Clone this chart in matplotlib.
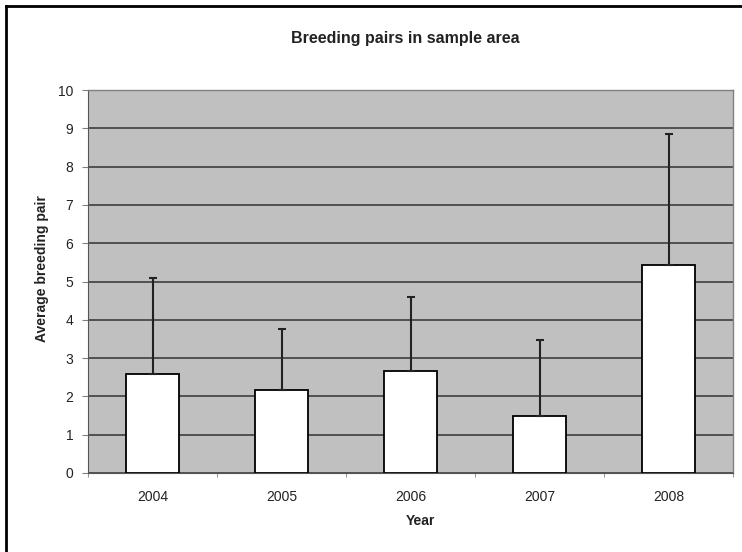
import numpy as np
import matplotlib.pyplot as plt
from matplotlib.lines import Line2D

years = ['2004', '2005', '2006', '2007', '2008']
means = [2.58, 2.17, 2.66, 1.49, 5.43]
err_up = [2.52, 1.59, 1.94, 1.98, 3.42]  # upper error only

plt.rcParams['font.family'] = ['Liberation Sans', 'DejaVu Sans']

fig = plt.figure(figsize=(7.42, 5.52), dpi=100)
ax = fig.add_axes([88/742, 1-473/552, (733-88)/742, (473-90)/552])

x = np.arange(len(years))
ax.set_facecolor('#c0c0c0')
ax.grid(axis='y', color='#333333', linewidth=1.1)
ax.set_axisbelow(True)

ax.bar(x, means, width=0.41, color='white', edgecolor='black', linewidth=1.3, zorder=2)
ax.errorbar(x, means, yerr=[np.zeros(len(x)), err_up], fmt='none', ecolor='#222222',
            elinewidth=1.5, capsize=3, capthick=1.5, zorder=3)

ax.set_xlim(-0.5, len(years) - 0.5)
ax.set_ylim(0, 10)
ax.set_yticks(range(0, 11))
ax.set_xticks(x)
ax.set_xticklabels(years)
ax.set_xticks(np.arange(-0.5, len(years)), minor=True)
ax.tick_params(axis='x', which='major', length=0, pad=12, labelsize=10, labelcolor='#222222')
ax.tick_params(axis='x', which='minor', length=3, color='#808080', direction='out')
ax.tick_params(axis='y', length=4.5, color='#808080', direction='out', labelsize=10,
               pad=6, labelcolor='#222222')

for s in ['top', 'right']:
    ax.spines[s].set_color('#808080')
    ax.spines[s].set_linewidth(1)
ax.spines['left'].set_color('#555555')
ax.spines['bottom'].set_color('#555555')

fig.text(405/742, 1-39/552, 'Breeding pairs in sample area', fontsize=11.5,
         fontweight='bold', ha='center', va='center', color='#222222')
ax.set_xlabel('Year', fontsize=10, fontweight='bold', va='center', color='#222222')
ax.xaxis.set_label_coords(0.516, -0.125)
ax.set_ylabel('Average breeding pair', fontsize=10, fontweight='bold', va='center',
              color='#222222')
ax.yaxis.set_label_coords(-0.071, 0.535)

# outer frame (left and top edges visible)
fig.add_artist(Line2D([6/742, 6/742], [0, 1-6/552], color='black', linewidth=2))
fig.add_artist(Line2D([6/742, 1], [1-6/552, 1-6/552], color='black', linewidth=2))

fig.savefig('out.png', dpi=100)
